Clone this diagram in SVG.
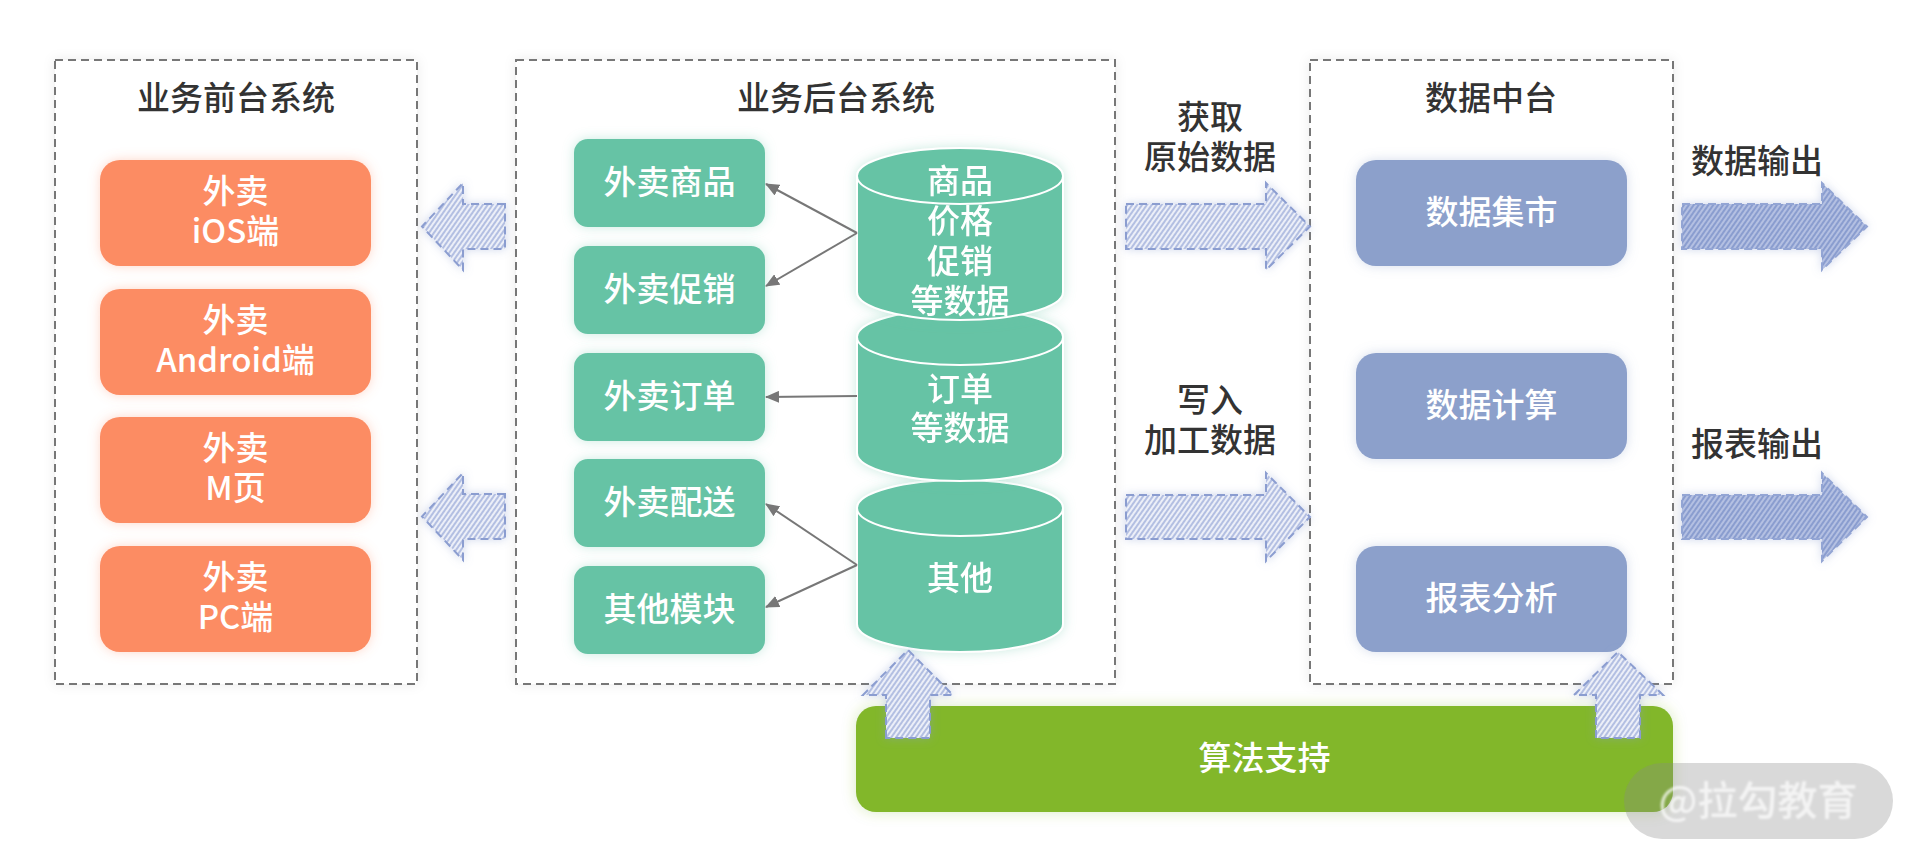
<svg xmlns="http://www.w3.org/2000/svg" width="1920" height="864" viewBox="0 0 1920 864">
<defs>
<style>
.t{font-family:"Noto Sans CJK SC","Noto Sans",sans-serif;font-weight:500;font-size:33px;text-anchor:middle}
.dark{fill:#333}
.w{fill:#fff}
.cont{fill:#fff;stroke:#777;stroke-width:2;stroke-dasharray:8 5;filter:url(#gGray)}
.org{fill:#fc8c63;filter:url(#gOrange)}
.grn{fill:#66c3a5;filter:url(#gGreen)}
.cyl{fill:#66c3a5;stroke:#fff;stroke-width:2}
.blu{fill:#8ca0cb;filter:url(#gBlue)}
.lime{fill:#82b72b;filter:url(#gLime)}
.hl{fill:url(#hatchL);stroke:#8b9dd0;stroke-width:2;stroke-dasharray:8 5;filter:url(#gArrow)}
.hd{fill:url(#hatchD);stroke:#93a5d4;stroke-width:2;stroke-dasharray:8 5;filter:url(#gArrow)}
.ln{stroke:#777;stroke-width:2;fill:none;marker-end:url(#ah)}
</style>
<pattern id="hatchL" width="4" height="4" patternUnits="userSpaceOnUse" patternTransform="rotate(35)">
<rect width="4" height="4" fill="#eceff8"/><rect width="2" height="4" fill="#b3bfe2"/>
</pattern>
<pattern id="hatchD" width="4" height="4" patternUnits="userSpaceOnUse" patternTransform="rotate(35)">
<rect width="4" height="4" fill="#b4c0e2"/><rect width="2" height="4" fill="#8a9dcf"/>
</pattern>
<filter id="gGray" x="-10%" y="-10%" width="120%" height="120%"><feDropShadow dx="0" dy="0" stdDeviation="6" flood-color="#000" flood-opacity="0.08"/></filter>
<filter id="gOrange" x="-20%" y="-30%" width="140%" height="160%"><feDropShadow dx="0" dy="0" stdDeviation="6" flood-color="#fb8c62" flood-opacity="0.35"/></filter>
<filter id="gGreen" x="-20%" y="-30%" width="140%" height="160%"><feDropShadow dx="0" dy="0" stdDeviation="6" flood-color="#66c3a5" flood-opacity="0.35"/></filter>
<filter id="gBlue" x="-20%" y="-30%" width="140%" height="160%"><feDropShadow dx="0" dy="0" stdDeviation="6" flood-color="#8ca0cb" flood-opacity="0.35"/></filter>
<filter id="gLime" x="-10%" y="-30%" width="120%" height="160%"><feDropShadow dx="0" dy="0" stdDeviation="7" flood-color="#82b72b" flood-opacity="0.3"/></filter>
<filter id="gArrow" x="-30%" y="-30%" width="160%" height="160%"><feDropShadow dx="0" dy="0" stdDeviation="5" flood-color="#8b9dd0" flood-opacity="0.4"/></filter>
<filter id="blurT" x="-10%" y="-20%" width="120%" height="140%"><feGaussianBlur stdDeviation="0.8"/></filter>
<marker id="ah" viewBox="0 0 14 12" refX="13" refY="6" markerWidth="14" markerHeight="12" markerUnits="userSpaceOnUse" orient="auto">
<path d="M0,0 L14,6 L0,12 Z" fill="#777"/>
</marker>
</defs>
<rect width="1920" height="864" fill="#fff"/>

<!-- containers -->
<g id="frontend">
<rect class="cont" x="55" y="60" width="362" height="624"/>
<text class="t dark" x="236" y="110">业务前台系统</text>
</g>
<g id="backend">
<rect class="cont" x="516" y="60" width="599" height="624"/>
<text class="t dark" x="836" y="110">业务后台系统</text>
</g>
<g id="datacenter">
<rect class="cont" x="1310" y="60" width="363" height="624"/>
<text class="t dark" x="1491" y="110">数据中台</text>
</g>

<!-- front-end nodes -->
<g id="fe-ios">
<rect class="org" x="100" y="160" width="271" height="106" rx="20"/>
<text class="t w" x="235.5" y="203">外卖<tspan x="235.5" dy="40">iOS端</tspan></text>
</g>
<g id="fe-android">
<rect class="org" x="100" y="289" width="271" height="106" rx="20"/>
<text class="t w" x="235.5" y="332">外卖<tspan x="235.5" dy="40">Android端</tspan></text>
</g>
<g id="fe-m">
<rect class="org" x="100" y="417" width="271" height="106" rx="20"/>
<text class="t w" x="235.5" y="460">外卖<tspan x="235.5" dy="40">M页</tspan></text>
</g>
<g id="fe-pc">
<rect class="org" x="100" y="546" width="271" height="106" rx="20"/>
<text class="t w" x="235.5" y="589">外卖<tspan x="235.5" dy="40">PC端</tspan></text>
</g>

<!-- back-end modules -->
<g id="be-goods">
<rect class="grn" x="574" y="139" width="191" height="88" rx="14"/>
<text class="t w" x="669.5" y="194">外卖商品</text>
</g>
<g id="be-promo">
<rect class="grn" x="574" y="246" width="191" height="88" rx="14"/>
<text class="t w" x="669.5" y="301">外卖促销</text>
</g>
<g id="be-order">
<rect class="grn" x="574" y="353" width="191" height="88" rx="14"/>
<text class="t w" x="669.5" y="408">外卖订单</text>
</g>
<g id="be-delivery">
<rect class="grn" x="574" y="459" width="191" height="88" rx="14"/>
<text class="t w" x="669.5" y="514">外卖配送</text>
</g>
<g id="be-other">
<rect class="grn" x="574" y="566" width="191" height="88" rx="14"/>
<text class="t w" x="669.5" y="621">其他模块</text>
</g>

<!-- databases (drawn bottom first) -->
<g id="db-other" filter="url(#gGreen)">
<path class="cyl" d="M857,508 A103,28 0 0 1 1063,508 V624 A103,28 0 0 1 857,624 Z"/>
<path d="M857,508 A103,28 0 0 0 1063,508" fill="none" stroke="#fff" stroke-width="2"/>
<text class="t w" x="960" y="590">其他</text>
</g>
<g id="db-order" filter="url(#gGreen)">
<path class="cyl" d="M857,337 A103,28 0 0 1 1063,337 V453 A103,28 0 0 1 857,453 Z"/>
<path d="M857,337 A103,28 0 0 0 1063,337" fill="none" stroke="#fff" stroke-width="2"/>
<text class="t w" x="960" y="401">订单<tspan x="960" dy="39">等数据</tspan></text>
</g>
<g id="db-goods" filter="url(#gGreen)">
<path class="cyl" d="M857,176 A103,28 0 0 1 1063,176 V292 A103,28 0 0 1 857,292 Z"/>
<path d="M857,176 A103,28 0 0 0 1063,176" fill="none" stroke="#fff" stroke-width="2"/>
<text class="t w" x="960" y="193">商品<tspan x="960" dy="40">价格</tspan><tspan x="960" dy="40">促销</tspan><tspan x="960" dy="40">等数据</tspan></text>
</g>

<!-- data center nodes -->
<g id="dc-mart">
<rect class="blu" x="1356" y="160" width="271" height="106" rx="20"/>
<text class="t w" x="1491.5" y="224">数据集市</text>
</g>
<g id="dc-compute">
<rect class="blu" x="1356" y="353" width="271" height="106" rx="20"/>
<text class="t w" x="1491.5" y="417">数据计算</text>
</g>
<g id="dc-report">
<rect class="blu" x="1356" y="546" width="271" height="106" rx="20"/>
<text class="t w" x="1491.5" y="610">报表分析</text>
</g>

<!-- algorithm support -->
<g id="algo">
<rect class="lime" x="856" y="706" width="817" height="106" rx="20"/>
<text class="t w" x="1264.5" y="770">算法支持</text>
</g>

<!-- labels -->
<g id="labels">
<text class="t dark" x="1210" y="129">获取<tspan x="1210" dy="40">原始数据</tspan></text>
<text class="t dark" x="1210" y="412">写入<tspan x="1210" dy="40">加工数据</tspan></text>
<text class="t dark" x="1757" y="173">数据输出</text>
<text class="t dark" x="1757" y="456">报表输出</text>
</g>

<!-- connectors -->
<g id="connectors">
<line class="ln" x1="857" y1="233" x2="766" y2="184"/>
<line class="ln" x1="857" y1="233" x2="766" y2="286"/>
<line class="ln" x1="857" y1="396" x2="766" y2="397"/>
<line class="ln" x1="857" y1="565" x2="766" y2="504"/>
<line class="ln" x1="857" y1="565" x2="766" y2="607"/>
<polygon class="hl" points="505,204 463,204 463,183 422,226.5 463,270 463,249 505,249"/>
<polygon class="hl" points="505,494 463,494 463,473 422,516.5 463,560 463,539 505,539"/>
<polygon class="hl" points="1126,204 1266,204 1266,183 1310,226.5 1266,270 1266,249 1126,249"/>
<polygon class="hl" points="1126,495 1266,495 1266,473 1310,517 1266,561 1266,539 1126,539"/>
<polygon class="hd" points="1682,204 1822,204 1822,183 1867,226.5 1822,270 1822,249 1682,249"/>
<polygon class="hd" points="1682,495 1822,495 1822,473 1867,517 1822,561 1822,539 1682,539"/>
<polygon class="hl" points="886,738 886,695 863,695 908,650 953,695 930,695 930,738"/>
<polygon class="hl" points="1596,738 1596,695 1574,695 1618,652 1663,695 1640,695 1640,738"/>
</g>

<!-- watermark -->
<g id="watermark">
<rect x="1624" y="763" width="269" height="76" rx="38" fill="#8a8a8a" fill-opacity="0.32"/>
<text x="1758" y="815" font-family="Noto Sans CJK SC,sans-serif" font-size="40" font-weight="500" text-anchor="middle" fill="#fff" fill-opacity="0.7" filter="url(#blurT)">@拉勾教育</text>
</g>
</svg>
